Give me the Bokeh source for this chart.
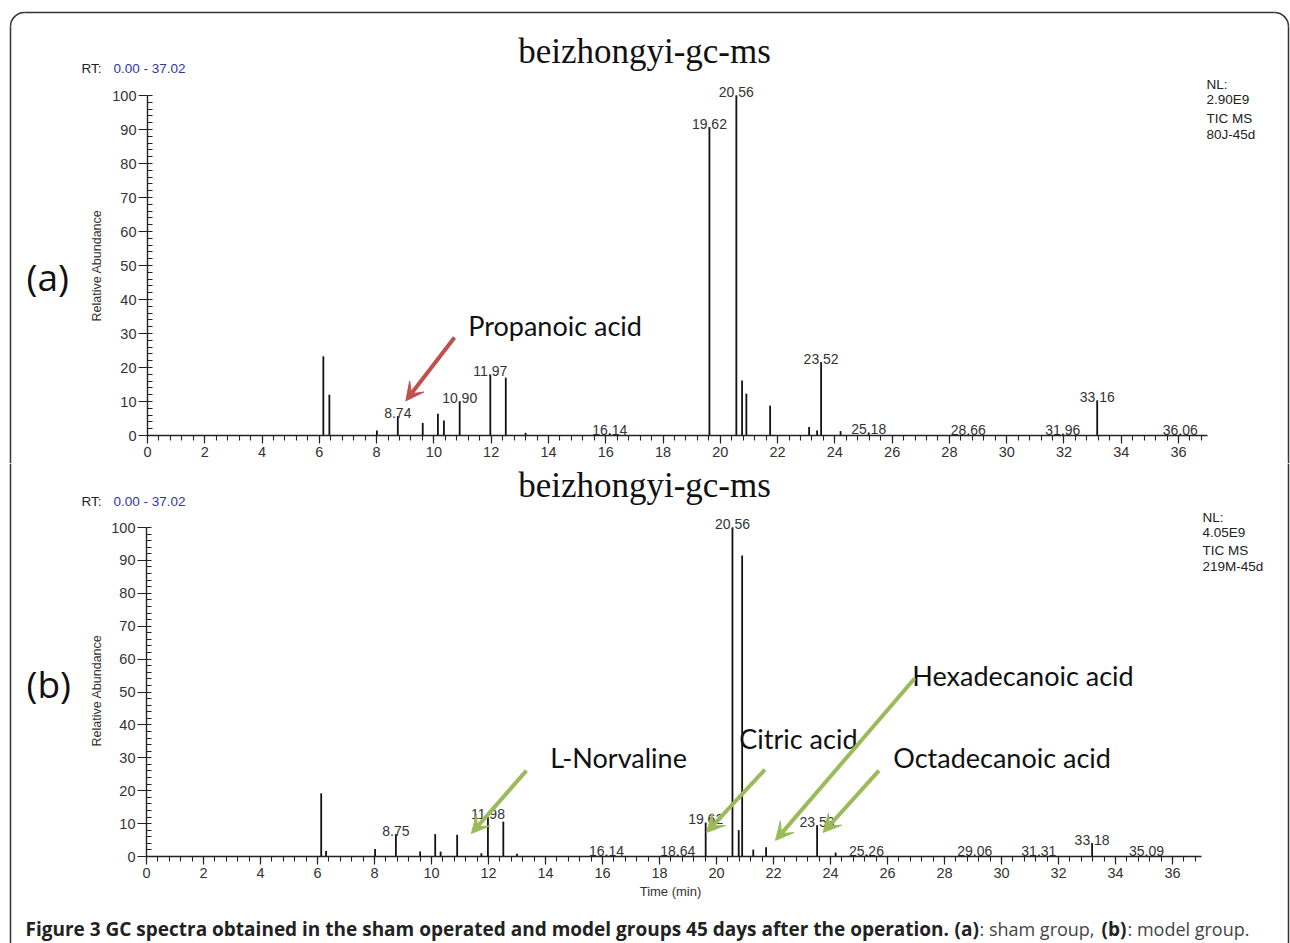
import numpy as np
from bokeh.plotting import figure
from bokeh.models import Range1d, SingleIntervalTicker, Arrow, VeeHead, LinearAxis
from bokeh.layouts import column
from bokeh.core.properties import value
from bokeh.embed import file_html
from bokeh.resources import INLINE

# ---------------- data (retention time in min, relative abundance in %) -------------
A_RT = [6.14, 6.35, 8.01, 8.74, 9.61, 10.14, 10.35, 10.90, 11.97, 12.51, 13.20, 16.14,
        19.62, 20.56, 20.76, 20.91, 21.74, 23.10, 23.38, 23.52, 24.20, 25.18, 28.66,
        31.96, 33.16, 36.06]
A_AB = [23.3, 12.0, 1.5, 5.7, 3.7, 6.4, 4.4, 10.1, 17.9, 17.0, 0.8, 0.6,
        90.7, 100.0, 16.2, 12.3, 8.8, 2.5, 1.5, 21.6, 1.3, 0.8, 0.3,
        0.3, 10.3, 0.3]
A_LABELS = ["8.74", "10.90", "11.97", "16.14", "19.62", "20.56", "23.52", "25.18",
            "28.66", "31.96", "33.16", "36.06"]

B_RT = [6.13, 6.30, 8.02, 8.75, 9.60, 10.13, 10.32, 10.90, 11.75, 11.98, 12.52, 13.00,
        16.14, 18.64, 19.62, 20.56, 20.78, 20.90, 21.29, 21.74, 23.53, 24.18, 25.26,
        29.06, 31.31, 33.18, 35.09]
B_AB = [19.2, 1.7, 2.3, 6.8, 1.5, 6.8, 1.5, 6.6, 1.0, 11.9, 10.6, 0.8,
        0.4, 0.4, 10.2, 100.0, 8.0, 91.5, 2.1, 2.8, 9.5, 1.2, 0.5,
        0.3, 0.3, 4.1, 0.3]
B_LABELS = ["8.75", "11.98", "16.14", "18.64", "19.62", "20.56", "23.53", "25.26",
            "29.06", "31.31", "33.18", "35.09"]

RT_MAX = 37.02
TITLE = "beizhongyi-gc-ms"
A_NL = ["NL:", "2.90E9", "TIC  MS", "80J-45d"]
B_NL = ["NL:", "4.05E9", "TIC  MS", "219M-45d"]

A_NOTE_TEXT = ["Propanoic acid"]
A_NOTE_X = [11.2]
A_NOTE_Y = [32.4]
A_ARROWS = [(10.72, 28.8, 9.02, 10.2)]

B_NOTE_TEXT = ["L-Norvaline", "Citric acid", "Hexadecanoic acid", "Octadecanoic acid"]
B_NOTE_X = [14.17, 20.8, 26.87, 26.2]
B_NOTE_Y = [30.1, 35.9, 55.0, 30.1]
B_ARROWS = [(13.33, 26.1, 11.4, 7.0), (21.7, 26.4, 19.65, 7.3),
            (26.95, 54.1, 22.07, 4.9), (25.7, 26.1, 23.74, 7.3)]

CAPTION = ["Figure 3 GC spectra obtained in the sham operated and model groups 45 days after the operation.",
           "(a)", ": sham group, ", "(b)", ": model group."]

W = 1290
SANS = value("Liberation Sans")
LATO = value("Lato")
OPEN = value("Open Sans")


def make_panel(rt, ab, labels, nl, tag, notes, nx, ny, arrows, arrow_color,
               H, top, x0, ppx, y0, ppy, first, last):
    # pixel helpers (page coordinates) for chrome placement
    X = lambda px: (px - x0) / ppx
    Y = lambda py: (y0 - py) / ppy
    p = figure(width=W, height=H,
               x_range=Range1d(X(0), X(W)), y_range=Range1d(Y(top + H), Y(top)),
               output_backend="svg", toolbar_location=None, min_border=0,
               x_axis_type=None, y_axis_type=None)
    p.outline_line_color = None
    p.background_fill_color = "white"
    p.border_fill_color = "white"

    xa = LinearAxis(fixed_location=0, bounds=(0, RT_MAX),
                    ticker=SingleIntervalTicker(interval=2, num_minor_ticks=5))
    ya = LinearAxis(fixed_location=0, bounds=(0, 100),
                    ticker=SingleIntervalTicker(interval=10, num_minor_ticks=5))
    for ax in (xa, ya):
        ax.axis_line_color = "#222"
        ax.axis_line_width = 1.4
        ax.major_tick_line_color = "#222"
        ax.minor_tick_line_color = "#222"
        ax.major_tick_line_width = 1.2
        ax.minor_tick_line_width = 1.1
        ax.major_label_text_font = "Liberation Sans"
        ax.major_label_text_font_size = "14.5px"
        ax.major_label_text_color = "#333"
    xa.major_tick_in = 0
    xa.major_tick_out = 8
    xa.minor_tick_in = 0
    xa.minor_tick_out = 5
    xa.major_label_standoff = 3
    ya.major_tick_in = 0
    ya.major_tick_out = 9
    ya.minor_tick_in = 5
    ya.minor_tick_out = 0
    ya.major_label_standoff = 2
    p.add_layout(xa, "below")
    p.add_layout(ya, "left")

    # chromatogram sticks
    p.segment(x0=rt, y0=[0] * len(rt), x1=rt, y1=ab, line_color="#111", line_width=1.8)

    # peak labels
    lx = [float(s) for s in labels]
    ly = [max(ab[rt.index(v)], 0.6) + 3.5 / ppy for v in lx]
    p.text(x=lx, y=ly, text=labels, text_font=SANS, text_font_size="14px",
           text_color="#333", text_align="center", text_baseline="alphabetic")

    # title / header texts
    p.text(x=[X(644)], y=[Y(51 if first else 485)], text=[TITLE],
           text_font=value("Liberation Serif"), text_font_size="35px",
           text_color="#111", text_align="center", text_baseline="alphabetic")
    hy = 68 if first else 501
    p.text(x=[X(81)], y=[Y(hy)], text=["RT:"], text_font=SANS, text_font_size="13.5px",
           text_color="#222", text_baseline="middle")
    p.text(x=[X(113)], y=[Y(hy)], text=["0.00 - 37.02"], text_font=SANS,
           text_font_size="13.5px", text_color="#3333aa", text_baseline="middle")
    nly = [84, 99, 118, 134] if first else [517, 532, 550, 566]
    nlx = 1206 if first else 1202
    p.text(x=[X(nlx)] * 4, y=[Y(v) for v in nly], text=nl, text_font=SANS,
           text_font_size="13.5px", text_color="#222", text_baseline="middle")
    p.text(x=[X(26)], y=[Y(276 if first else 683)], text=[tag], text_font=OPEN,
           text_font_size="37px", text_color="#111", text_baseline="middle")
    p.text(x=[X(96)], y=[Y(265 if first else 690)], text=["Relative Abundance"],
           text_font=SANS, text_font_size="12.5px", text_color="#333",
           text_align="center", text_baseline="middle", angle=np.pi / 2)

    # compound annotations
    p.text(x=nx, y=ny, text=notes, text_font=LATO, text_font_size="27px",
           text_color="#111", text_baseline="middle")
    for (xs, ys, xe, ye) in arrows:
        p.add_layout(Arrow(x_start=xs, y_start=ys, x_end=xe, y_end=ye,
                           line_color=arrow_color, line_width=4,
                           end=VeeHead(size=18, fill_color=arrow_color,
                                       line_color=arrow_color, line_width=1)))

    # rounded frame of the figure
    bc, bw = "#333", 1.5
    if first:
        p.segment(x0=[X(24)], y0=[Y(12)], x1=[X(1274)], y1=[Y(12)], line_color=bc, line_width=bw)
        p.arc(x=[X(24), X(1274)], y=[Y(26), Y(26)], radius=14, radius_units="screen",
              start_angle=[np.pi / 2, 0], end_angle=[np.pi, np.pi / 2],
              line_color=bc, line_width=bw)
        p.segment(x0=[X(10), X(1288)], y0=[Y(26)] * 2, x1=[X(10), X(1288)], y1=[Y(top + H)] * 2,
                  line_color=bc, line_width=bw)
    else:
        p.segment(x0=[X(10), X(1288)], y0=[Y(top)] * 2, x1=[X(10), X(1288)], y1=[Y(top + H)] * 2,
                  line_color=bc, line_width=bw)
    if last:
        p.text(x=[X(670)], y=[Y(891)], text=["Time (min)"], text_font=SANS,
               text_font_size="13px", text_color="#333", text_align="center",
               text_baseline="middle")
        cx = [25, 954, 979, 1101, 1127]
        styles = ["bold", "bold", "normal", "bold", "normal"]
        sizes = ["19px", "19px", "18px", "19px", "18px"]
        colors = ["#222", "#222", "#444", "#222", "#444"]
        for s, px, st, fs, c in zip(CAPTION, cx, styles, sizes, colors):
            p.text(x=[X(px)], y=[Y(928)], text=[s], text_font=OPEN, text_font_size=fs,
                   text_font_style=st, text_color=c, text_baseline="middle")
    return p


p1 = make_panel(A_RT, A_AB, A_LABELS, A_NL, "(a)", A_NOTE_TEXT, A_NOTE_X, A_NOTE_Y,
                A_ARROWS, "#c0504d", H=463, top=0, x0=147, ppx=28.64, y0=435, ppy=3.4,
                first=True, last=False)
p2 = make_panel(B_RT, B_AB, B_LABELS, B_NL, "(b)", B_NOTE_TEXT, B_NOTE_X, B_NOTE_Y,
                B_ARROWS, "#9bbb59", H=480, top=463, x0=146, ppx=28.5, y0=856, ppy=3.29,
                first=False, last=True)

layout = column(p1, p2, spacing=0)
open("out.html", "w").write(file_html(layout, INLINE))
